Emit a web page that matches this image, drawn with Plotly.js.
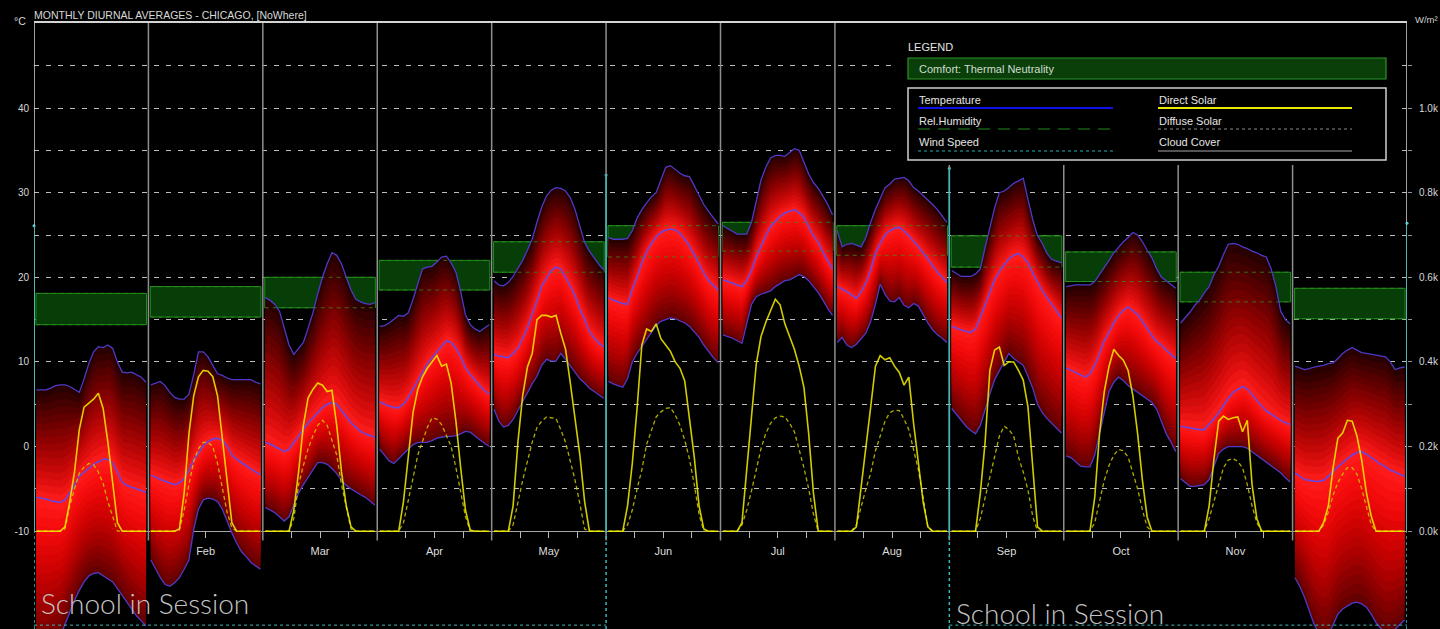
<!DOCTYPE html>
<html><head><meta charset="utf-8">
<script src="https://cdn.plot.ly/plotly-3.0.1.min.js"></script>
<style>html,body{margin:0;padding:0;background:#000;overflow:hidden}#chart{width:1440px;height:629px}</style>
</head><body><div id="chart"></div>
<script>
const months = ['Jan','Feb','Mar','Apr','May','Jun','Jul','Aug','Sep','Oct','Nov','Dec'];

// hourly (0..23) monthly diurnal averages, °C
const tempMax = [
 [6.7,6.7,6.7,6.9,7.2,7.3,7.3,7.1,6.8,6.4,8.0,9.8,11.2,11.8,11.7,12.0,11.6,10.0,8.8,8.7,8.8,8.5,8.2,7.6],
 [7.3,7.5,7.7,7.2,6.4,5.8,5.6,5.6,6.2,8.5,11.2,11.2,10.6,9.6,8.6,8.4,8.1,7.9,7.9,7.9,7.9,7.9,7.6,7.4],
 [17.6,17.3,16.8,16.0,14.0,12.0,10.9,11.6,12.3,14.0,15.8,18.0,20.0,21.6,22.9,22.6,21.6,20.0,18.5,17.4,17.1,16.9,16.8,17.0],
 [14.2,14.3,14.6,15.1,15.5,15.4,15.8,17.4,19.1,21.0,21.2,21.3,21.8,22.4,22.5,21.7,20.6,18.3,15.6,14.4,13.9,13.6,14.0,14.4],
 [19.6,19.1,19.0,19.4,20.1,21.1,22.0,23.2,24.5,26.5,28.3,29.6,30.3,30.6,30.5,30.2,29.4,28.0,26.1,24.1,23.1,22.3,21.5,20.9],
 [24.7,24.5,24.5,24.5,24.6,25.5,27.0,28.0,28.8,29.5,30.0,31.5,33.0,33.2,32.7,32.3,32.0,31.9,30.8,29.6,28.6,27.8,27.0,26.3],
 [26.1,25.8,25.4,25.1,25.1,25.1,26.5,29.2,31.5,33.0,34.1,34.4,34.4,34.3,34.8,35.2,35.0,33.6,32.2,31.2,30.5,29.6,28.6,27.4],
 [25.5,23.6,23.9,24.0,23.8,23.6,24.7,26.5,28.0,29.3,30.6,31.0,31.6,31.7,31.8,31.4,30.6,30.2,29.7,29.2,28.6,28.0,27.3,26.5],
 [20.8,20.4,20.1,20.1,20.1,20.4,21.0,23.5,26.0,28.2,30.0,30.2,30.6,31.1,31.4,31.7,29.2,26.8,24.9,24.0,22.8,22.1,21.9,21.7],
 [18.9,19.0,19.1,19.1,19.1,19.1,19.5,20.3,21.1,22.0,22.9,23.6,24.2,24.7,25.3,25.0,24.2,23.2,22.3,21.0,20.0,19.6,19.2,18.7],
 [14.6,15.2,15.9,16.7,17.3,18.2,18.9,20.3,21.3,22.7,23.9,24.0,23.9,23.6,23.4,23.1,22.9,22.6,22.4,21.0,18.9,16.0,15.0,14.5],
 [9.5,9.3,9.1,9.2,9.4,9.5,9.6,9.8,9.9,10.4,11.0,11.4,11.7,11.4,11.1,11.0,10.9,10.8,10.7,10.6,10.0,9.1,9.3,9.4]
];
const tempMean = [
 [-6.0,-6.1,-6.2,-6.4,-6.5,-6.6,-6.3,-5.5,-4.6,-3.5,-3.0,-2.5,-2.1,-1.8,-1.5,-1.5,-2.0,-3.0,-4.2,-4.6,-4.8,-5.0,-5.2,-5.4],
 [-3.4,-3.6,-3.9,-4.1,-4.3,-4.5,-4.3,-3.8,-2.8,-1.6,-0.8,0.1,0.6,0.9,1.0,0.7,0.1,-1.0,-1.5,-1.9,-2.3,-2.7,-3.0,-3.3],
 [0.5,0.3,0.0,-0.3,-0.6,-0.3,0.5,1.2,2.0,2.8,3.4,4.0,4.6,5.0,5.2,5.0,4.3,3.6,2.8,2.3,1.8,1.5,1.3,1.1],
 [5.3,5.0,4.8,4.6,4.6,5.0,5.8,6.8,7.8,8.7,9.8,10.5,11.2,11.9,12.5,12.3,11.6,10.6,9.3,8.5,7.8,7.2,6.6,6.2],
 [10.9,10.7,10.6,10.5,11.0,11.6,12.8,14.0,15.7,17.2,19.0,19.9,20.8,21.2,21.0,20.0,19.0,17.8,16.2,15.0,13.6,12.8,12.2,11.8],
 [17.6,17.3,17.1,16.9,16.8,18.6,20.0,21.7,23.0,24.0,24.8,25.3,25.6,25.7,25.6,25.2,24.5,23.7,22.7,21.5,20.5,19.6,19.0,18.5],
 [19.7,19.5,19.3,19.1,18.9,19.6,20.8,22.4,23.7,24.9,26.0,26.6,27.2,27.6,27.8,28.0,27.6,27.1,26.0,24.9,24.1,22.9,21.9,21.0],
 [18.9,18.6,18.3,17.9,17.5,18.3,19.3,20.9,22.8,24.0,25.0,25.5,25.8,25.9,25.5,24.9,24.3,23.6,22.9,22.1,21.4,20.6,20.0,19.4],
 [14.2,14.0,13.8,13.6,13.5,13.9,15.3,16.7,18.3,19.7,20.7,21.5,22.2,22.6,22.8,22.4,21.7,20.5,19.5,18.4,17.6,16.8,16.0,15.2],
 [9.3,9.0,8.7,8.4,8.2,8.6,9.6,11.0,12.5,13.5,14.6,15.5,16.1,16.5,16.1,15.6,14.8,13.9,13.1,12.4,12.0,11.4,10.9,10.4],
 [2.4,2.3,2.2,2.1,2.0,2.0,2.6,3.3,4.0,4.9,5.7,6.4,6.8,7.1,6.8,6.1,5.5,4.8,4.2,3.8,3.4,3.1,2.8,2.6],
 [-3.1,-3.5,-3.9,-4.0,-4.1,-4.1,-4.0,-3.5,-2.9,-2.4,-1.9,-1.4,-1.0,-0.7,-0.6,-0.9,-1.3,-1.8,-2.1,-2.4,-2.8,-3.0,-3.3,-3.5]
];
const tempMin = [
 [-24.0,-24.0,-24.0,-23.5,-23.0,-22.5,-21.0,-19.5,-18.2,-17.0,-16.0,-15.3,-15.0,-14.9,-15.3,-15.6,-16.0,-16.8,-17.6,-18.4,-19.3,-20.0,-20.6,-21.2],
 [-13.4,-14.5,-15.5,-16.3,-16.5,-16.1,-15.5,-14.5,-13.4,-9.8,-7.4,-6.3,-6.1,-6.2,-6.5,-7.4,-8.9,-10.2,-11.4,-12.4,-13.0,-13.7,-14.1,-14.5],
 [-7.2,-7.5,-7.8,-8.3,-8.8,-8.3,-6.8,-5.5,-4.5,-3.6,-2.8,-1.9,-1.9,-2.1,-2.6,-3.2,-4.0,-4.6,-5.0,-5.4,-5.7,-6.0,-6.5,-6.9],
 [-0.3,-1.0,-1.7,-2.0,-1.4,-0.8,-0.3,0.2,0.5,0.5,0.5,0.7,1.0,1.1,1.2,1.2,1.3,1.5,1.8,1.7,1.2,0.8,0.4,0.0],
 [4.4,3.0,2.3,2.5,3.2,4.3,5.3,6.4,7.4,8.3,9.6,10.3,10.1,10.1,11.0,10.3,9.5,8.8,8.0,7.5,6.9,6.5,6.1,5.7],
 [7.7,7.4,7.2,7.0,8.0,10.0,11.0,11.8,12.6,13.5,14.3,14.8,15.0,15.2,15.1,14.8,14.6,14.2,13.6,12.9,12.0,11.2,10.5,9.9],
 [13.2,13.0,12.8,12.5,12.2,14.5,16.8,17.7,18.0,18.2,18.4,18.9,19.3,19.6,19.7,20.0,20.3,20.1,19.6,18.9,18.2,17.3,16.3,15.5],
 [12.3,12.9,12.0,11.7,12.1,12.7,13.4,14.8,16.8,19.2,18.0,17.2,17.1,17.6,16.7,16.4,16.9,16.6,15.6,14.6,13.8,13.2,12.8,12.3],
 [4.5,3.8,3.2,2.4,1.9,1.5,2.5,4.5,6.2,7.9,9.0,10.0,11.0,10.4,10.0,9.6,8.3,6.9,5.0,4.0,3.3,2.7,2.1,1.6],
 [-1.1,-1.3,-1.8,-2.3,-2.4,-2.4,-1.0,1.5,4.0,6.5,7.6,8.2,7.8,7.2,6.8,6.4,6.0,5.6,5.2,4.4,3.0,1.5,0.5,-0.6],
 [-3.8,-4.3,-4.7,-4.7,-4.6,-4.5,-3.9,-2.4,-0.8,-0.3,0.0,0.0,0.0,0.0,-0.2,-0.6,-1.0,-1.4,-1.9,-2.2,-2.6,-3.1,-3.7,-4.2],
 [-15.5,-16.5,-17.8,-19.5,-21.0,-22.0,-22.5,-22.3,-21.0,-19.8,-19.2,-18.8,-18.5,-18.4,-18.6,-19.0,-19.8,-20.8,-21.5,-22.0,-22.0,-21.6,-21.0,-20.5]
];
// W/m²
const directSolar = [
 [0,0,0,0,0,0,10,70,140,240,293,302,312,326,290,210,110,20,0,0,0,0,0,0],
 [0,0,0,0,0,0,5,90,230,320,365,380,378,365,320,220,110,20,0,0,0,0,0,0],
 [0,0,0,0,0,0,50,140,250,315,335,350,345,330,333,250,140,60,10,0,0,0,0,0],
 [0,0,0,0,0,70,180,280,335,365,385,400,415,390,395,350,260,150,50,3,0,0,0,0],
 [0,0,0,0,60,210,320,388,420,500,510,510,506,510,468,430,350,270,180,70,0,0,0,0],
 [0,0,0,0,60,160,290,440,478,472,490,455,440,425,400,385,355,270,175,60,5,0,0,0],
 [0,0,0,0,20,137,270,395,460,494,520,548,535,490,460,430,390,340,230,90,0,0,0,0],
 [0,0,0,0,10,100,190,293,390,415,405,410,390,375,345,364,255,160,70,10,0,0,0,0],
 [0,0,0,0,0,0,90,210,380,428,435,392,400,400,380,357,293,140,10,0,0,0,0,0],
 [0,0,0,0,0,0,80,230,330,390,430,415,404,380,320,230,120,33,0,0,0,0,0,0],
 [0,0,0,0,0,0,60,170,260,272,264,268,270,235,262,110,30,0,0,0,0,0,0,0],
 [0,0,0,0,0,0,20,60,150,220,232,262,260,225,168,90,35,0,0,0,0,0,0,0]
];
const diffuseSolar = [
 [0,0,0,0,0,0,5,60,100,137,152,160,157,140,113,70,35,0,0,0,0,0,0,0],
 [0,0,0,0,0,0,3,50,110,165,195,210,210,200,160,105,45,8,0,0,0,0,0,0],
 [0,0,0,0,0,0,30,110,155,195,225,250,262,250,215,180,110,60,5,0,0,0,0,0],
 [0,0,0,0,0,20,70,125,180,215,245,268,265,252,225,200,150,95,35,0,0,0,0,0],
 [0,0,0,0,15,70,120,165,210,245,260,270,268,266,240,210,165,120,65,5,0,0,0,0],
 [0,0,0,0,15,50,100,145,205,240,270,282,290,292,275,250,215,170,110,40,0,0,0,0],
 [0,0,0,0,15,50,95,145,195,231,255,268,272,270,255,235,195,150,100,40,0,0,0,0],
 [0,0,0,0,15,60,100,137,190,225,260,280,286,285,265,240,195,145,80,10,0,0,0,0],
 [0,0,0,0,0,0,30,80,130,175,225,248,240,225,175,140,97,35,0,0,0,0,0,0],
 [0,0,0,0,0,0,20,70,120,155,180,193,190,175,140,100,50,10,0,0,0,0,0,0],
 [0,0,0,0,0,0,30,70,113,150,168,172,165,150,110,60,20,0,0,0,0,0,0,0],
 [0,0,0,0,0,0,15,45,85,115,135,150,150,135,100,55,15,0,0,0,0,0,0,0]
];
const comfortLow  = [14.4,15.3,16.4,18.5,20.6,22.4,23.1,22.6,21.2,19.5,17.1,15.1];
const comfortHigh = [18.1,18.9,20.0,22.0,24.2,26.1,26.5,26.1,24.9,23.0,20.6,18.7];
const sessionBounds = [0, 5, 8, 12];          // month boundaries: school Jan–May, Sep–Dec
const sessionMarkTop = [26.1, 32.1, 32.9, 26.4]; // °C where the cyan markers sit
const yTicks = [-10,-5,0,5,10,15,20,25,30,35,40,45];
const wTicks = [0,100,200,300,400,500,600,700,800,900,1000,1100];

// ---------- geometry ----------
const W = 1440, H = 629, ML = 34, MR = 33, MT = 22, MB = 0;
const PW = W - ML - MR, PH = H - MT - MB;
const pxX = v => (v - ML) / PW;
const pxY = v => (H - MB - v) / PH;
const T_RANGE = [-21.56, 50.17];
const toW = t => (t + 10) * 20;     // 0 W/m² at -10 °C, 0.2k per 10 °C
const W_RANGE = T_RANGE.map(toW);
const HRS = 24;
const hx = (m, h) => m * HRS + h + 0.5;
const EDGE0 = 0.4, EDGE1 = 23.6;

function lineSegs(arr) {
  const x = [], y = [];
  arr.forEach((row, m) => { row.forEach((v, h) => { x.push(hx(m, h)); y.push(v); }); x.push(null); y.push(null); });
  return {x, y};
}
function halfBand(frac, upper) {
  const x = [], y = [];
  for (let m = 0; m < 12; m++) {
    const mn = tempMean[m];
    for (let h = 0; h < HRS; h++) {
      x.push(hx(m, h));
      y.push(upper ? mn[h] + frac * (tempMax[m][h] - mn[h]) : mn[h] - frac * (mn[h] - tempMin[m][h]));
    }
    for (let h = HRS - 1; h >= 0; h--) { x.push(hx(m, h)); y.push(mn[h]); }
    x.push(null); y.push(null);
  }
  return {x, y};
}
const upColor = d => { const r = Math.round(255 * (1 - 0.87 * Math.pow(d, 1.05))); const g = Math.round(30 * Math.pow(1 - d, 4)); return `rgb(${r},${g},${g})`; };
const loColor = d => { const r = Math.round(255 * (1 - 0.64 * Math.pow(d, 1.6))); const g = Math.round(30 * Math.pow(1 - d, 4)); return `rgb(${r},${g},${g})`; };

const traces = [];
// comfort boxes
(function(){
  const x = [], y = [];
  for (let m = 0; m < 12; m++) {
    const a = m * HRS + EDGE0, b = m * HRS + EDGE1;
    x.push(a, b, b, a, a, null); y.push(comfortLow[m], comfortLow[m], comfortHigh[m], comfortHigh[m], comfortLow[m], null);
  }
  traces.push({x, y, mode: 'lines', fill: 'toself', fillcolor: '#073d07', line: {color: '#1c8f1c', width: 1}, hoverinfo: 'skip'});
})();
// temperature band gradient
const N = 16;
for (let k = 0; k < N; k++) {
  const f = 1 - k / N, d = f - 0.5 / N;
  const u = halfBand(f, true), l = halfBand(f, false);
  traces.push({x: u.x, y: u.y, mode: 'lines', fill: 'toself', fillcolor: upColor(d), line: {width: 0}, hoverinfo: 'skip'});
  traces.push({x: l.x, y: l.y, mode: 'lines', fill: 'toself', fillcolor: loColor(d), line: {width: 0}, hoverinfo: 'skip'});
}
// comfort edges showing through
(function(){
  const x = [], y = [];
  for (let m = 0; m < 12; m++) {
    const a = m * HRS + EDGE0, b = m * HRS + EDGE1;
    x.push(a, b, null, a, b, null); y.push(comfortLow[m], comfortLow[m], null, comfortHigh[m], comfortHigh[m], null);
  }
  traces.push({x, y, mode: 'lines', line: {color: 'rgba(60,140,30,0.75)', width: 1, dash: '4px,4px'}, hoverinfo: 'skip'});
})();
// temperature lines
[[tempMax, '#4b3bc8', 1.3], [tempMin, '#4b3bc8', 1.3], [tempMean, '#6a46e0', 1.6]].forEach(([arr, c, w]) => {
  const s = lineSegs(arr);
  traces.push({x: s.x, y: s.y, mode: 'lines', line: {color: c, width: w}, hoverinfo: 'skip'});
});
// solar
(function(){
  const d = lineSegs(diffuseSolar), s = lineSegs(directSolar);
  traces.push({x: d.x, y: d.y, yaxis: 'y2', mode: 'lines', line: {color: 'rgba(205,200,0,0.85)', width: 1.3, dash: '4px,3px'}, hoverinfo: 'skip'});
  traces.push({x: s.x, y: s.y, yaxis: 'y2', mode: 'lines', line: {color: 'rgba(245,240,0,0.85)', width: 1.6}, hoverinfo: 'skip'});
})();
// session markers
traces.push({x: sessionBounds.map(m => m * HRS), y: sessionMarkTop, mode: 'markers', marker: {color: '#40d0d0', size: 3}, hoverinfo: 'skip', cliponaxis: false});

// ---------- shapes ----------
const shapes = [];
for (let m = 1; m < 12; m++) shapes.push({type: 'line', xref: 'x', yref: 'y', x0: m * HRS, x1: m * HRS, y0: -11.1, y1: T_RANGE[1], line: {color: '#8e8e8e', width: 1.5}, layer: 'above'});
shapes.push({type: 'line', xref: 'x', yref: 'paper', x0: 0, x1: 288, y0: 1, y1: 1, line: {color: '#d4d4d4', width: 2}});
[0, 288].forEach(xv => shapes.push({type: 'line', xref: 'x', yref: 'y', x0: xv, x1: xv, y0: -10, y1: T_RANGE[1], line: {color: '#d4d4d4', width: 1.5}}));
sessionBounds.forEach((m, i) => {
  shapes.push({type: 'line', xref: 'x', yref: 'y', x0: m * HRS, x1: m * HRS, y0: -10, y1: sessionMarkTop[i], line: {color: '#3cb8b8', width: 1.5}});
  shapes.push({type: 'line', xref: 'x', yref: 'y', x0: m * HRS, x1: m * HRS, y0: T_RANGE[0], y1: -10, line: {color: '#3cb8b8', width: 1.5, dash: 'dot'}});
});
[[0, 5], [8, 12]].forEach(([a, b]) => shapes.push({type: 'line', xref: 'x', yref: 'y', x0: a * HRS, x1: b * HRS, y0: -21.1, y1: -21.1, line: {color: '#3cb8b8', width: 1, dash: 'dot'}}));
// legend panel
const rectP = (x0, y0, x1, y1, extra) => Object.assign({type: 'rect', xref: 'paper', yref: 'paper', x0: pxX(x0), x1: pxX(x1), y0: pxY(y1), y1: pxY(y0), layer: 'above'}, extra);
const lineP = (x0, x1, yv, line) => ({type: 'line', xref: 'paper', yref: 'paper', x0: pxX(x0), x1: pxX(x1), y0: pxY(yv), y1: pxY(yv), line, layer: 'above'});
shapes.push(rectP(895, 23, 1400, 165, {fillcolor: '#000', line: {width: 0}}));
shapes.push(rectP(908, 58, 1386, 79, {fillcolor: '#0a3f0a', line: {color: '#2a962a', width: 1.2}}));
shapes.push(rectP(908, 88, 1386, 160, {fillcolor: '#000', line: {color: '#cfcfcf', width: 1.5}}));
shapes.push(lineP(918, 1113, 108, {color: '#1010e8', width: 2}));
shapes.push(lineP(918, 1113, 129, {color: '#1f8a1f', width: 1.2, dash: '12px,8px'}));
shapes.push(lineP(918, 1113, 151, {color: '#20b0b0', width: 1.2, dash: '3px,3px'}));
shapes.push(lineP(1158, 1352, 108, {color: '#e8e800', width: 2}));
shapes.push(lineP(1158, 1352, 129, {color: '#8a8a8a', width: 1, dash: '3px,3px'}));
shapes.push(lineP(1158, 1352, 151, {color: '#a8a8a8', width: 1.2}));

// ---------- annotations ----------
const F = 'Liberation Sans, Arial, sans-serif';
const txt = (t, x, y, size, color, extra) => Object.assign({text: t, xref: 'paper', yref: 'paper', x: pxX(x), y: pxY(y), xanchor: 'left', yanchor: 'middle', showarrow: false, font: {family: F, size, color}, borderpad: 0}, extra);
const sisFont = {family: 'Lato, Open Sans, sans-serif', size: 28, color: '#c4c4c4', weight: 300};
const annotations = [
  txt('MONTHLY DIURNAL AVERAGES - CHICAGO, [NoWhere]', 33, 15, 10.5, '#d8d8d8'),
  txt('°C', 13, 21, 10.5, '#d8d8d8'),
  txt('W/m²', 1414, 19, 9.5, '#d0d0d0'),
  txt('LEGEND', 907, 47, 11, '#e4e4e4'),
  txt('Comfort: Thermal Neutrality', 918, 69, 11, '#d0dcd0'),
  txt('Temperature', 918, 100, 11, '#e4e4e4'),
  txt('Rel.Humidity', 918, 121, 11, '#e4e4e4'),
  txt('Wind Speed', 918, 142, 11, '#e4e4e4'),
  txt('Direct Solar', 1158, 100, 11, '#e4e4e4'),
  txt('Diffuse Solar', 1158, 121, 11, '#e4e4e4'),
  txt('Cloud Cover', 1158, 142, 11, '#e4e4e4'),
  txt('School in Session', 40, 603, 28, '#c4c4c4', {font: sisFont}),
  txt('School in Session', 955, 613, 28, '#c4c4c4', {font: sisFont})
];

const xTickVals = [], xTickText = [];
months.forEach((n, m) => { [6, 12, 18].forEach(h => { xTickVals.push(m * HRS + h); xTickText.push(h === 12 ? n : ''); }); });
const xPos = (-10 - T_RANGE[0]) / (T_RANGE[1] - T_RANGE[0]);

const layout = {
  width: W, height: H, margin: {l: ML, r: MR, t: MT, b: MB, pad: 0},
  paper_bgcolor: '#000', plot_bgcolor: '#000', showlegend: false,
  font: {family: F, color: '#d8d8d8', size: 10},
  xaxis: {range: [0, 288], anchor: 'free', position: xPos, showgrid: false, zeroline: false,
    tickvals: xTickVals, ticktext: xTickText, ticks: 'outside', ticklen: 6, tickcolor: '#b8b8b8', tickwidth: 1,
    showline: true, linecolor: '#a8a8a0', linewidth: 1, layer: 'below traces',
    tickfont: {size: 11, color: '#dedede', family: F}, ticklabelstandoff: 4, fixedrange: true},
  yaxis: {range: T_RANGE, tickvals: yTicks, ticktext: yTicks.map(v => v % 10 === 0 ? String(v) : ''),
    showgrid: true, gridcolor: '#bdbdbd', gridwidth: 1, griddash: '5px,7px', zeroline: false, showline: false,
    ticks: '', tickfont: {size: 10, color: '#d8d8d8', family: F}, ticklabelstandoff: 4, fixedrange: true},
  yaxis2: {range: W_RANGE, overlaying: 'y', side: 'right', anchor: 'x', tickvals: wTicks,
    ticktext: wTicks.map(v => v % 200 === 0 ? (v / 1000).toFixed(1) + 'k' : ''),
    showgrid: false, zeroline: false, showline: false, ticks: 'outside', ticklen: 4, tickcolor: '#909090',
    tickfont: {size: 10, color: '#d8d8d8', family: F}, ticklabelstandoff: 5, fixedrange: true},
  shapes, annotations
};
Plotly.newPlot('chart', traces, layout, {displayModeBar: false, staticPlot: true});
</script></body></html>
